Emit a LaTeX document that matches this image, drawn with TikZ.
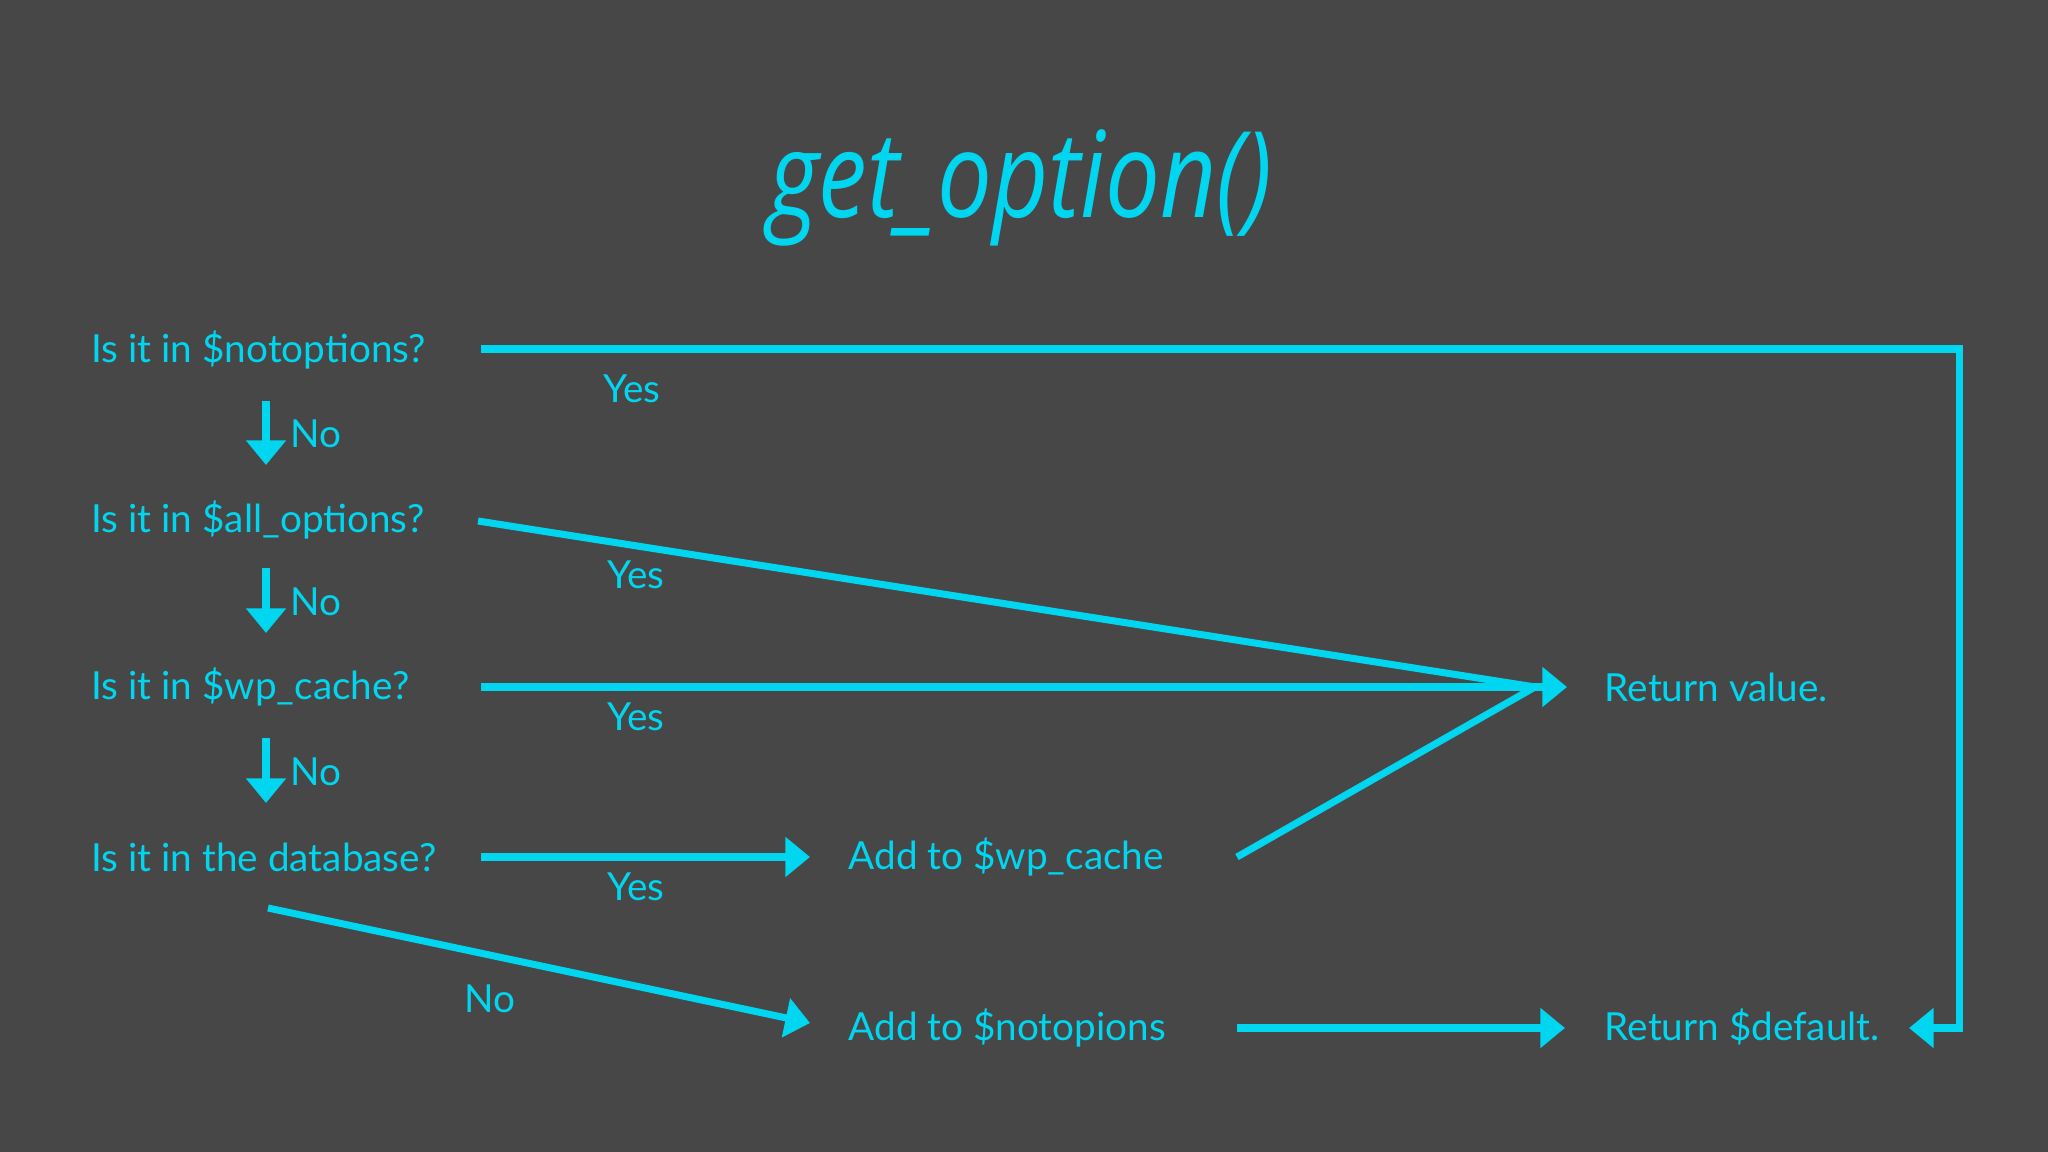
\documentclass[tikz,border=0pt]{standalone}
\usepackage{fontspec}
\setmainfont{Lato}
\newfontfamily\titlefont{Open Sans}
\usetikzlibrary{arrows.meta}
\definecolor{bg}{HTML}{474748}
\definecolor{cy}{HTML}{00D6F0}
\begin{document}
\begin{tikzpicture}[x=0.01cm,y=-0.01cm,
  txt/.style={text=cy, font=\fontsize{11}{13}\selectfont, inner sep=0pt, anchor=west},
  lbl/.style={text=cy, font=\fontsize{11}{13}\selectfont, inner sep=0pt},
  conn/.style={draw=cy, line width=2pt, line join=miter},
  arr/.style={conn, -{Triangle[length=7pt,width=11pt]}}]
\fill[bg] (0,0) rectangle (2048,1152);
\useasboundingbox (0,0) rectangle (2048,1152);
\node[text=cy, inner sep=0pt, font=\titlefont\itshape\fontsize{34}{40}\selectfont] (title) at (1020,188) {\scalebox{0.815}[1]{get\_option()}};
\node[txt] (q1) at (91,350) {Is it in \$notoptions?};
\node[txt] (q2) at (91,520) {Is it in \$all\_options?};
\node[txt] (q3) at (91,687) {Is it in \$wp\_cache?};
\node[txt] (q4) at (91,857) {Is it in the database?};
\node[txt] (addc) at (848,857) {Add to \$wp\_cache};
\node[txt] (addn) at (848,1028) {Add to \$notopions};
\node[txt] (rv) at (1604,687) {Return value.};
\node[txt] (rd) at (1604,1027) {Return \$default.};
\node[lbl] (y1) at (632,389) {Yes};
\node[lbl] (y2) at (636,575) {Yes};
\node[lbl] (y3) at (636,717) {Yes};
\node[lbl] (y4) at (636,887) {Yes};
\node[lbl,anchor=west] (no1) at (290,434) {No};
\node[lbl,anchor=west] (no2) at (290,602) {No};
\node[lbl,anchor=west] (no3) at (290,772) {No};
\node[lbl] (no4) at (490,999) {No};
\coordinate (d1a) at (266,401); \coordinate (d1b) at (266,465);
\coordinate (d2a) at (266,568); \coordinate (d2b) at (266,633);
\coordinate (d3a) at (266,738); \coordinate (d3b) at (266,803);
\coordinate (s1) at (481,349);
\coordinate (c1) at (1959,349);
\coordinate (c2) at (1959,1028);
\coordinate (e1) at (1909,1028);
\coordinate (s2) at (478,521);
\coordinate (s3) at (481,687);
\coordinate (s4) at (481,857);
\coordinate (s5) at (268,908);
\coordinate (m) at (1535,687);
\coordinate (t3) at (1567,687);
\coordinate (t4) at (810,857);
\coordinate (t5) at (810,1023);
\coordinate (sc) at (1237,857);
\coordinate (sn) at (1237,1028);
\coordinate (tn) at (1565,1028);
\draw[arr] (d1a) -- (d1b);
\draw[arr] (d2a) -- (d2b);
\draw[arr] (d3a) -- (d3b);
\draw[arr] (s1) -- (c1) -- (c2) -- (e1);
\draw[conn] (s2) -- (m);
\draw[arr] (s3) -- (t3);
\draw[conn] (sc) -- (m);
\draw[arr] (s4) -- (t4);
\draw[arr] (s5) -- (t5);
\draw[arr] (sn) -- (tn);
\end{tikzpicture}
\end{document}
